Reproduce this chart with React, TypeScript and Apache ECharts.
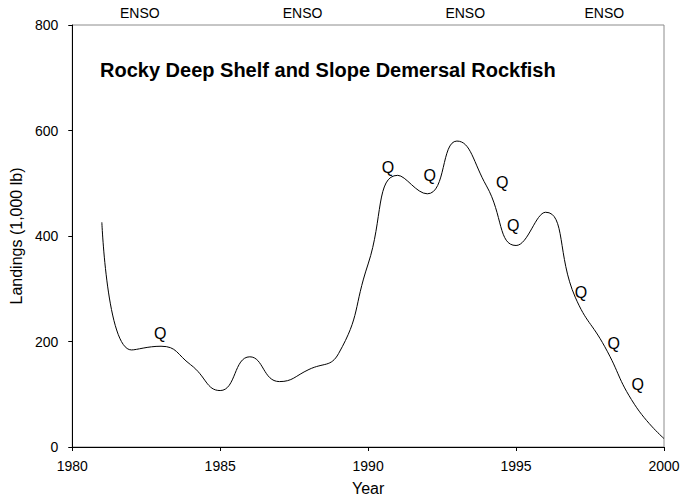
import React, { useEffect, useRef } from "react";
import * as echarts from "echarts";

const years = [1981, 1982, 1983, 1984, 1985, 1986, 1987, 1988, 1989, 1990, 1991, 1992, 1993, 1994, 1995, 1996, 1997, 1998, 1999, 2000];
const landings = [426, 184, 191, 156, 107, 171, 124, 147, 177, 347, 515, 480, 580, 495, 382, 445, 284, 190, 81, 16];

const qYears = [1982.99, 1990.69, 1992.1, 1994.55, 1994.92, 1997.21, 1998.32, 1999.13];
const qValues = [214, 528, 513, 501, 419, 291, 195, 118];

const ensoYears = [1982.3, 1987.8, 1993.3, 1998.0];
const ensoLevel = 822;

const xTicks = { min: 1980, max: 2000, interval: 5 };
const yTicks = { min: 0, max: 800, interval: 200 };

const titleText = "Rocky Deep Shelf and Slope Demersal Rockfish";
const FONT = "Arial, 'Liberation Sans', Helvetica, sans-serif";

export default function App() {
  const ref = useRef<HTMLDivElement>(null);
  useEffect(() => {
    if (!ref.current) return;
    const chart = echarts.init(ref.current, null, { renderer: "svg" });
    const textLabel = (txt: string, size: number) => ({
      show: true,
      position: [0, 0],
      align: "center",
      verticalAlign: "middle",
      formatter: txt,
      fontFamily: FONT,
      fontSize: size,
      color: "#000",
      opacity: 1,
      textBorderWidth: 0,
      textBorderColor: "transparent",
    });
    chart.setOption({
      animation: false,
      backgroundColor: "#ffffff",
      textStyle: { fontFamily: FONT, color: "#000" },
      title: {
        text: titleText,
        left: 100,
        top: 60,
        padding: 0,
        textStyle: { fontFamily: FONT, fontSize: 20, fontWeight: "bold", color: "#000" },
      },
      grid: {
        left: 69,
        right: 19,
        top: 25,
        bottom: 50,
        show: true,
        borderColor: "#8c8c8c",
        borderWidth: 1,
        backgroundColor: "transparent",
      },
      xAxis: {
        type: "value",
        min: xTicks.min,
        max: xTicks.max,
        interval: xTicks.interval,
        name: "Year",
        nameLocation: "middle",
        nameGap: 33,
        nameTextStyle: { fontFamily: FONT, fontSize: 16, color: "#000" },
        axisLine: { show: true, lineStyle: { color: "#000", width: 1 } },
        axisTick: { show: true, inside: false, length: 4, lineStyle: { color: "#000" } },
        axisLabel: {
          fontFamily: FONT,
          fontSize: 14,
          color: "#000",
          margin: 12,
          formatter: (v: number) => String(v),
        },
        splitLine: { show: false },
      },
      yAxis: {
        type: "value",
        min: yTicks.min,
        max: yTicks.max,
        interval: yTicks.interval,
        name: "Landings (1,000 lb)",
        nameLocation: "middle",
        nameGap: 47,
        nameRotate: 90,
        nameTextStyle: { fontFamily: FONT, fontSize: 16, color: "#000" },
        axisLine: { show: true, lineStyle: { color: "#000", width: 1 } },
        axisTick: { show: true, inside: false, length: 4, lineStyle: { color: "#000" } },
        axisLabel: { fontFamily: FONT, fontSize: 14, color: "#000", margin: 14 },
        splitLine: { show: false },
      },
      series: [
        {
          type: "line",
          data: years.map((y, i) => [y, landings[i]]),
          smooth: 0.5,
          showSymbol: false,
          symbol: "none",
          lineStyle: { color: "#000", width: 1 },
        },
        {
          type: "scatter",
          data: qYears.map((y, i) => [y, qValues[i]]),
          symbolSize: 1,
          itemStyle: { color: "rgba(255,255,255,0)" },
          label: textLabel("Q", 16),
        },
        {
          type: "scatter",
          clip: false,
          data: ensoYears.map((y) => [y, ensoLevel]),
          symbolSize: 1,
          itemStyle: { color: "rgba(255,255,255,0)" },
          label: textLabel("ENSO", 14),
        },
      ],
    });
    return () => chart.dispose();
  }, []);
  return (
    <div
      ref={ref}
      style={{ position: "absolute", left: 0, top: 0, width: 683, height: 501 }}
    />
  );
}
